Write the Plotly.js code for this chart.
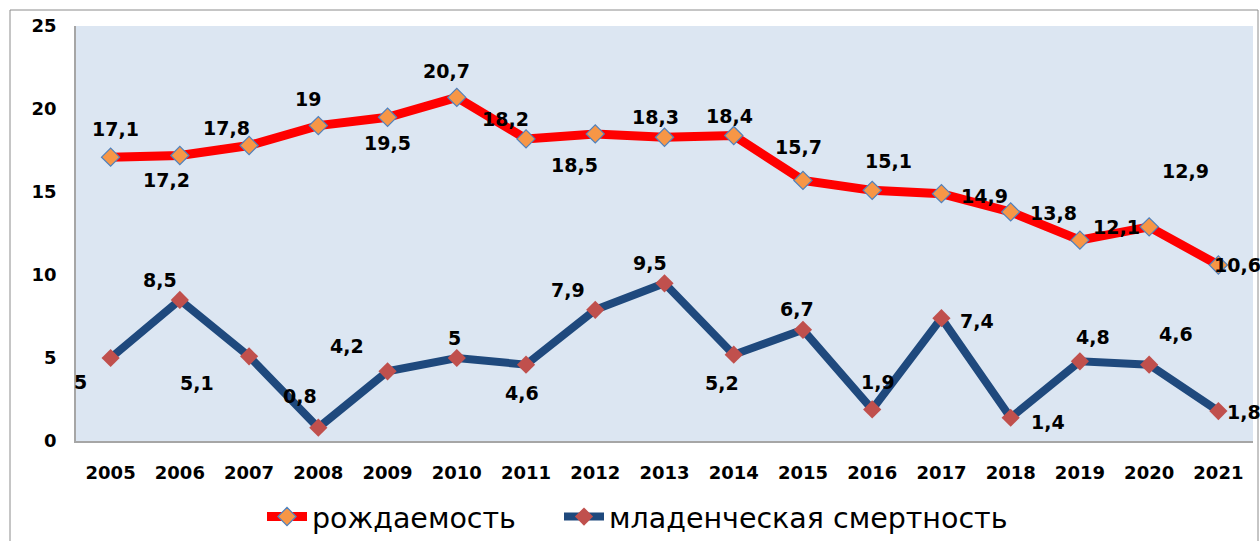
<!DOCTYPE html>
<html>
<head>
<meta charset="utf-8">
<script src="https://cdn.plot.ly/plotly-3.0.1.min.js"></script>
<style>html,body{margin:0;padding:0;background:#fff;}#chart{width:1260px;height:541px;}</style>
</head>
<body>
<div id="chart"></div>
<script>
// ---- data ----
const years = ["2005","2006","2007","2008","2009","2010","2011","2012","2013","2014","2015","2016","2017","2018","2019","2020","2021"];
const birthRate = [17.1,17.2,17.8,19,19.5,20.7,18.2,18.5,18.3,18.4,15.7,15.1,14.9,13.8,12.1,12.9,10.6];
const infantMortality = [5,8.5,5.1,0.8,4.2,5,4.6,7.9,9.5,5.2,6.7,1.9,7.4,1.4,4.8,4.6,1.8];
const seriesNames = ["рождаемость","младенческая смертность"];
const yTicks = [0,5,10,15,20,25];

// ---- label offsets (style, px) ----
const birthDx = [5,-13,-23,-10,0,-10,-21,-21,-9,-4,-4,16,43,43,37,36,19];
const birthDy = [-28,25,-18,-27,26,-26,-20,31,-20,-20,-33,-29,2,1,-13,-56,0];
const infDx = [-30,-20,-52,-18,-41,-2,-4,-27,-15,-12,-6,6,36,37,13,27,26];
const infDy = [24,-20,27,-32,-25,-20,28,-20,-20,28,-21,-27,3,4,-24,-31,1];

const fmt = v => String(v).replace('.', ',');

const annotations = [];
for (let i = 0; i < years.length; i++) {
  annotations.push({x: i, y: birthRate[i], xref: 'x', yref: 'y', text: '<b>' + fmt(birthRate[i]) + '</b>',
    showarrow: false, xshift: birthDx[i], yshift: -birthDy[i],
    font: {family: 'DejaVu Sans', size: 19, color: '#000000'}});
  annotations.push({x: i, y: infantMortality[i], xref: 'x', yref: 'y', text: '<b>' + fmt(infantMortality[i]) + '</b>',
    showarrow: false, xshift: infDx[i], yshift: -infDy[i],
    font: {family: 'DejaVu Sans', size: 19, color: '#000000'}});
}

const traces = [
  {x: years, y: birthRate, name: seriesNames[0], type: 'scatter', mode: 'lines+markers',
   line: {color: '#FF0000', width: 9},
   marker: {symbol: 'diamond', size: 14, color: '#F79646', line: {color: '#4F81BD', width: 1.2}},
   cliponaxis: false, hoverinfo: 'skip', legend: 'legend'},
  {x: years, y: infantMortality, name: seriesNames[1], type: 'scatter', mode: 'lines+markers',
   line: {color: '#1F497D', width: 8},
   marker: {symbol: 'diamond', size: 14, color: '#C0504D', line: {width: 0}},
   cliponaxis: false, hoverinfo: 'skip', legend: 'legend2'}
];

const L = 76, R = 7, T = 26, B = 100, W = 1260, H = 541;
const pw = W - L - R, ph = H - T - B;

const legendBase = {orientation: 'h', xanchor: 'left', y: (441 - 517) / ph, yanchor: 'middle',
  font: {family: 'DejaVu Sans', size: 28.5, color: '#000'}, itemwidth: 40, tracegroupgap: 0,
  bgcolor: 'rgba(0,0,0,0)'};

const layout = {
  width: W, height: H,
  margin: {l: L, r: R, t: T, b: B, pad: 0, autoexpand: false},
  paper_bgcolor: '#FFFFFF',
  plot_bgcolor: '#DCE6F2',
  showlegend: true,
  legend: Object.assign({}, legendBase, {x: (262 - L) / pw}),
  legend2: Object.assign({}, legendBase, {x: (559 - L) / pw}),
  xaxis: {type: 'category', range: [-0.5, 16.5], showgrid: false, zeroline: false,
          showline: true, linecolor: '#A6A6A6', linewidth: 2, ticks: '', ticklabelstandoff: 14,
          tickfont: {family: 'DejaVu Sans', size: 18, color: '#000', weight: 'bold'}, fixedrange: true},
  yaxis: {range: [0, 25], tickvals: yTicks, ticktext: yTicks.map(String), showgrid: false, zeroline: false,
          showline: true, linecolor: '#A6A6A6', linewidth: 1.5, ticks: '', ticklabelstandoff: 14,
          tickfont: {family: 'DejaVu Sans', size: 18, color: '#000', weight: 'bold'}, fixedrange: true},
  annotations: annotations,
  shapes: [
    {type: 'rect', xref: 'paper', yref: 'paper',
     x0: (10 - L) / pw, x1: (1258 - L) / pw, y0: (441 - 560) / ph, y1: 1 + (T - 10) / ph,
     line: {color: '#8C8C8C', width: 1}, fillcolor: 'rgba(0,0,0,0)', layer: 'below'}
  ]
};

Plotly.newPlot('chart', traces, layout, {displayModeBar: false});
</script>
</body>
</html>
